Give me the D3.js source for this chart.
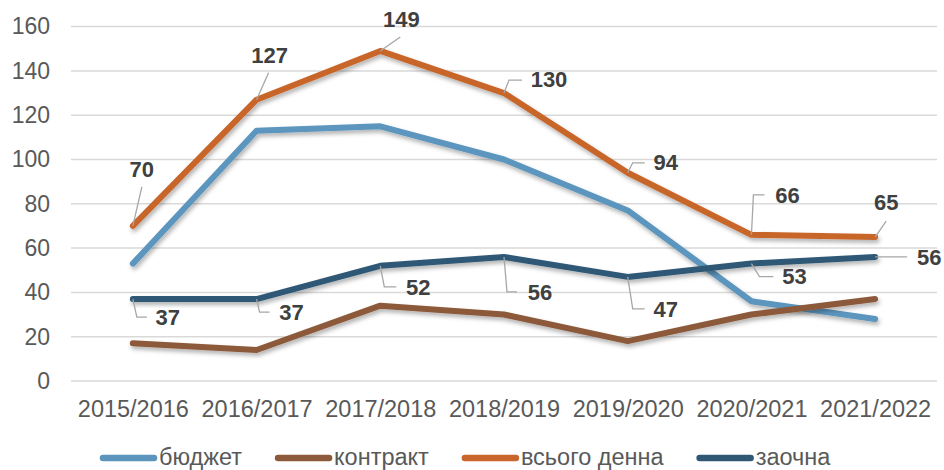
<!DOCTYPE html>
<html>
<head>
<meta charset="utf-8">
<script src="https://cdn.jsdelivr.net/npm/d3@7"></script>
<style>
  body { margin: 0; background: #fff; }
  svg { display: block; font-family: "Liberation Sans", Arial, sans-serif; }
</style>
</head>
<body>
<div id="chart"></div>
<script>
// chart data
var years = ["2015/2016", "2016/2017", "2017/2018", "2018/2019", "2019/2020", "2020/2021", "2021/2022"];
var budget   = [53, 113, 115, 100, 77, 36, 28];
var contract = [17, 14, 34, 30, 18, 30, 37];
var dayTotal = [70, 127, 149, 130, 94, 66, 65];
var extramural = [37, 37, 52, 56, 47, 53, 56];
var seriesNames = ["бюджет", "контракт", "всього денна", "заочна"];
var yTicks = [0, 20, 40, 60, 80, 100, 120, 140, 160];

var colors = ["#5b95bd", "#8c5a3a", "#c8662c", "#2f5874"];

// where the data labels sit, relative to their point: text centre/baseline + leader path
var dayTotalLabels = [
  { t: [9, -49],  lead: [[9, -39], [0, 0]] },
  { t: [13, -37], lead: [[12, -27], [0, 0]] },
  { t: [21, -24], lead: [[20, -14], [0, 0]] },
  { t: [45, -6],  lead: [[18, -13], [5, -13], [0, 0]] },
  { t: [38, -3],  lead: [[17, -10], [5, -10], [0, 0]] },
  { t: [36, -32], lead: [[13, -40], [2, -40], [0, 0]] },
  { t: [11, -27], lead: [[11, -16], [0, 0]] }
];
var extramuralLabels = [
  { t: [35, 26], lead: [[14, 18], [4, 18], [0, 0]] },
  { t: [35, 21], lead: [[13, 13], [3, 13], [0, 0]] },
  { t: [38, 29], lead: [[16, 21], [4, 21], [0, 0]] },
  { t: [36, 43], lead: [[13, 35], [3, 35], [0, 0]] },
  { t: [38, 40], lead: [[17, 32], [5, 32], [0, 0]] },
  { t: [43, 20], lead: [[22, 13], [8, 13], [0, 0]] },
  { t: [54, 8],  lead: [[32, 0], [0, 0]] }
];

var width = 944, height = 470;

var svg = d3.select("#chart").append("svg")
    .attr("width", width)
    .attr("height", height);

// soft shadow under the lines
var filter = svg.append("defs").append("filter")
    .attr("id", "shadow")
    .attr("x", "-10%").attr("y", "-10%")
    .attr("width", "120%").attr("height", "130%");
filter.append("feDropShadow")
    .attr("dx", 1.5).attr("dy", 3)
    .attr("stdDeviation", 2)
    .attr("flood-color", "#000")
    .attr("flood-opacity", 0.3);

var x = d3.scalePoint()
    .domain(years)
    .range([71, 937])
    .padding(0.5);

var y = d3.scaleLinear()
    .domain([0, 160])
    .range([381, 26.6]);

// gridlines
svg.append("g").selectAll("line")
    .data(yTicks)
    .enter().append("line")
    .attr("x1", 71).attr("x2", 937)
    .attr("y1", function(d) { return y(d); })
    .attr("y2", function(d) { return y(d); })
    .attr("stroke", "#d9d9d9")
    .attr("stroke-width", 1.5);

// y axis labels
var yAxis = svg.append("g")
    .attr("transform", "translate(50,0)")
    .call(d3.axisLeft(y).tickValues(yTicks).tickSize(0).tickPadding(0));
yAxis.select(".domain").remove();
yAxis.selectAll("text")
    .attr("font-size", 23)
    .attr("font-family", "Liberation Sans, Arial, sans-serif")
    .attr("fill", "#595959");

// x axis labels
var xAxis = svg.append("g")
    .attr("transform", "translate(0,400)")
    .call(d3.axisBottom(x).tickSize(0).tickPadding(0));
xAxis.select(".domain").remove();
xAxis.selectAll("text")
    .attr("dy", "0.71em")
    .attr("font-size", 23.5)
    .attr("font-family", "Liberation Sans, Arial, sans-serif")
    .attr("fill", "#595959");

// the lines
var allSeries = [budget, contract, dayTotal, extramural];
var line = d3.line()
    .x(function(d, i) { return x(years[i]); })
    .y(function(d) { return y(d); });

svg.append("g").selectAll(".line")
    .data(allSeries)
    .enter().append("path")
    .attr("class", "line")
    .attr("d", line)
    .attr("fill", "none")
    .attr("stroke", function(d, i) { return colors[i]; })
    .attr("stroke-width", 6)
    .attr("stroke-linejoin", "round")
    .attr("stroke-linecap", "round")
    .attr("filter", "url(#shadow)");

// data labels with leader lines
function drawLabels(values, layout) {
    var g = svg.append("g");
    values.forEach(function(v, i) {
        var px = x(years[i]), py = y(v), L = layout[i];
        g.append("path")
            .attr("d", d3.line()(L.lead.map(function(p) { return [px + p[0], py + p[1]]; })))
            .attr("fill", "none")
            .attr("stroke", "#a6a6a6")
            .attr("stroke-width", 1.3);
        g.append("text")
            .attr("x", px + L.t[0])
            .attr("y", py + L.t[1])
            .attr("text-anchor", "middle")
            .attr("font-size", 22)
            .attr("font-weight", "bold")
            .attr("fill", "#404040")
            .text(v);
    });
}
drawLabels(dayTotal, dayTotalLabels);
drawLabels(extramural, extramuralLabels);

// legend
var legend = svg.append("g");
var lx = 100, ly = 458;
seriesNames.forEach(function(name, i) {
    legend.append("line")
        .attr("x1", lx + 3).attr("x2", lx + 54)
        .attr("y1", ly).attr("y2", ly)
        .attr("stroke", colors[i])
        .attr("stroke-width", 6.5)
        .attr("stroke-linecap", "round");
    var t = legend.append("text")
        .attr("x", lx + 59)
        .attr("y", ly + 7)
        .attr("font-size", 23.5)
        .attr("fill", "#595959")
        .text(name);
    lx += 59 + t.node().getComputedTextLength() + 33;
});
</script>
</body>
</html>
